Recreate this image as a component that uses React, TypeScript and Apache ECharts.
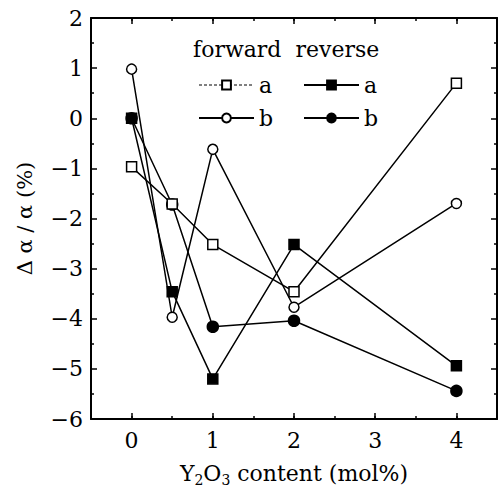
import React, { useEffect, useRef } from "react";
import * as echarts from "echarts";

const xValues = [0, 0.5, 1, 2, 4];
const forwardA = [-0.97, -1.71, -2.52, -3.46, 0.7];
const forwardB = [0.98, -3.97, -0.62, -3.77, -1.7];
const reverseA = [0.0, -3.46, -5.2, -2.52, -4.94];
const reverseB = [0.0, -1.72, -4.16, -4.04, -5.44];
const xMajorTicks = [0, 1, 2, 3, 4];

const FONT = "DejaVu Serif";

function pairs(vals: number[]) {
  return xValues.map((x, i) => [x, vals[i]]);
}

export default function App() {
  const ref = useRef<HTMLDivElement>(null);
  useEffect(() => {
    if (!ref.current) return;
    const chart = echarts.init(ref.current, undefined, { renderer: "svg" });
    const lineW = 1.5;
    const baseX = {
      type: "value",
      min: -0.5,
      max: 4.5,
      interval: 0.5,
      splitLine: { show: false },
    };
    const axisLine = { show: true, onZero: false, lineStyle: { color: "#000", width: 2 } };
    const minorTickX = { show: true, inside: true, length: 3, lineStyle: { color: "#000", width: 1.5 } };
    const majorTickX = {
      show: true,
      inside: true,
      length: 6,
      customValues: xMajorTicks,
      lineStyle: { color: "#000", width: 1.5 },
    };
    const baseY = {
      type: "value",
      min: -6,
      max: 2,
      interval: 1,
      splitLine: { show: false },
      axisLine,
      axisTick: { show: true, inside: true, length: 6, lineStyle: { color: "#000", width: 1.5 } },
      minorTick: { show: true, splitNumber: 2, length: 3, lineStyle: { color: "#000", width: 1.5 } },
    };
    const mkSeries = (name: string, data: number[], symbol: string, filled: boolean, size: number, z: number) => ({
      name,
      type: "line",
      data: pairs(data),
      symbol,
      symbolSize: size,
      showAllSymbol: true,
      z,
      lineStyle: { color: "#000", width: lineW },
      itemStyle: {
        color: filled ? "#000" : "#fff",
        borderColor: "#000",
        borderWidth: 1.5,
      },
    });
    chart.setOption({
      animation: false,
      backgroundColor: "#fff",
      grid: { left: 91, top: 18, width: 406, height: 401, containLabel: false, outerBoundsMode: "none" },
      xAxis: [
        {
          ...baseX,
          position: "bottom",
          axisLine,
          axisTick: minorTickX,
          axisLabel: {
            formatter: (v: number) => (Number.isInteger(v) ? String(v) : ""),
            fontSize: 22,
            fontFamily: FONT,
            color: "#000",
            margin: 10,
          },
          name: "{n|Y}{s|2}{n|O}{s|3}{n| content (mol%)}",
          nameLocation: "middle",
          nameGap: 40,
          nameTextStyle: {
            color: "#000",
            rich: {
              n: { fontSize: 22, fontFamily: FONT, color: "#000" },
              s: { fontSize: 14, fontFamily: FONT, color: "#000", padding: [14, 0, 0, 0] },
            },
          },
        },
        {
          ...baseX,
          position: "bottom",
          axisLine: { show: false, onZero: false },
          axisTick: majorTickX,
          axisLabel: { show: false },
        },
        {
          ...baseX,
          position: "top",
          axisLine,
          axisTick: minorTickX,
          axisLabel: { show: false },
        },
        {
          ...baseX,
          position: "top",
          axisLine: { show: false, onZero: false },
          axisTick: majorTickX,
          axisLabel: { show: false },
        },
      ],
      yAxis: [
        {
          ...baseY,
          position: "left",
          axisLabel: {
            formatter: (v: number) => (v < 0 ? "\u2212" + Math.abs(v) : String(v)),
            fontSize: 22,
            fontFamily: FONT,
            color: "#000",
            margin: 8,
          },
          name: "\u0394 \u03b1 / \u03b1 (%)",
          nameLocation: "middle",
          nameGap: 56,
          nameRotate: 90,
          nameTextStyle: { fontSize: 21, fontFamily: FONT, color: "#000" },
        },
        {
          ...baseY,
          position: "right",
          axisLabel: { show: false },
        },
      ],
      legend: [
        {
          left: 193,
          top: 69,
          orient: "vertical",
          itemWidth: 55,
          itemHeight: 11,
          itemGap: 11,
          formatter: (n: string) => n.slice(-1),
          textStyle: { fontSize: 22, fontFamily: FONT, color: "#000" },
          data: [
            { name: "forward a", lineStyle: { type: [3, 2], width: 1 } },
            { name: "forward b" },
          ],
        },
        {
          left: 298,
          top: 69,
          orient: "vertical",
          itemWidth: 55,
          itemHeight: 11,
          itemGap: 11,
          formatter: (n: string) => n.slice(-1),
          textStyle: { fontSize: 22, fontFamily: FONT, color: "#000" },
          data: [{ name: "reverse a" }, { name: "reverse b" }],
        },
      ],
      graphic: [
        {
          type: "text",
          left: 193,
          top: 38,
          style: { text: "forward  reverse", fontSize: 22, fontFamily: FONT, fill: "#000" },
        },
      ],
      series: [
        mkSeries("reverse b", reverseB, "circle", true, 11, 2),
        mkSeries("reverse a", reverseA, "rect", true, 10, 3),
        mkSeries("forward b", forwardB, "circle", false, 10, 4),
        mkSeries("forward a", forwardA, "rect", false, 10, 5),
      ],
    });
    return () => chart.dispose();
  }, []);
  return (
    <div
      ref={ref}
      style={{ position: "fixed", left: 0, top: 0, width: 500, height: 492, background: "#fff" }}
    />
  );
}
